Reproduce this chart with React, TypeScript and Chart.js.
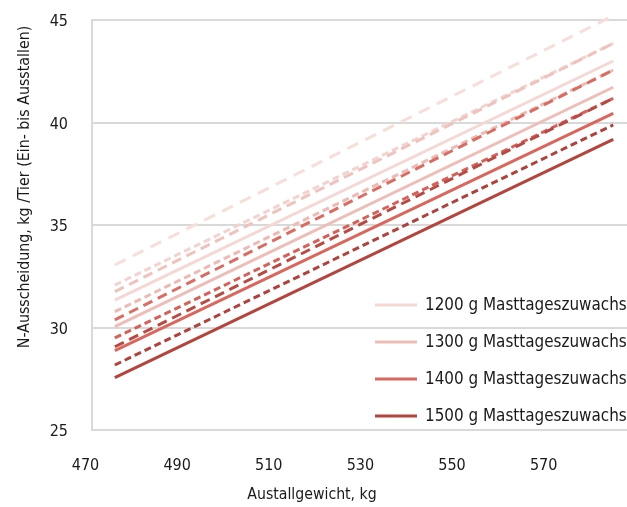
import React, { useEffect, useRef } from "react";
import { Chart, registerables } from "chart.js";

Chart.register(...registerables);

// X positions (Ausstallgewicht, kg) where each line starts and ends
const xPoints = [476.4, 585.2];
const xTicks = [470, 490, 510, 530, 550, 570];
const yTicks = [25, 30, 35, 40, 45];

const gainLabels = [
  "1200 g Masttageszuwachs",
  "1300 g Masttageszuwachs",
  "1400 g Masttageszuwachs",
  "1500 g Masttageszuwachs",
];

// solid lines
const solid1200 = [31.34, 43.0];
const solid1300 = [30.04, 41.72];
const solid1400 = [28.87, 40.45];
const solid1500 = [27.55, 39.18];
// long-dashed variants
const dashA1200 = [33.05, 45.21];
const dashA1300 = [31.75, 43.86];
const dashA1400 = [30.37, 42.56];
const dashA1500 = [29.06, 41.18];
// short-dashed variants
const dashB1200 = [32.07, 43.86];
const dashB1300 = [30.77, 42.56];
const dashB1400 = [29.49, 41.18];
const dashB1500 = [28.17, 39.88];

const colors = ["#F5D8D5", "#EEBDB8", "#D9675D", "#B3443E"];
const dashAColors = ["#F7DEDB", "#EFC2BD", "#DA6D63", "#B84A44"];
const dashBColors = ["#F3D3D0", "#EDBAB5", "#D4625A", "#B0423D"];

const FONT = "'DejaVu Sans Condensed', 'Liberation Sans', sans-serif";

const toPts = (ys: number[]) => ys.map((y, i) => ({ x: xPoints[i], y }));

export default function App() {
  const ref = useRef<HTMLCanvasElement | null>(null);

  useEffect(() => {
    if (!ref.current) return;
    const solids = [solid1200, solid1300, solid1400, solid1500];
    const dashAs = [dashA1200, dashA1300, dashA1400, dashA1500];
    const dashBs = [dashB1200, dashB1300, dashB1400, dashB1500];

    const datasets: any[] = [];
    // darker groups first so they are drawn on top (Chart.js draws index 0 last)
    for (let g = 3; g >= 0; g--) {
      datasets.push({
        label: gainLabels[g],
        data: toPts(solids[g]),
        borderColor: colors[g],
        borderWidth: 3,
        pointRadius: 0,
        fill: false,
        clip: false,
      });
      datasets.push({
        label: gainLabels[g] + " (a)",
        data: toPts(dashBs[g]),
        borderColor: dashBColors[g],
        borderWidth: 3,
        borderDash: [7, 4],
        pointRadius: 0,
        fill: false,
        clip: false,
      });
      datasets.push({
        label: gainLabels[g] + " (b)",
        data: toPts(dashAs[g]),
        borderColor: dashAColors[g],
        borderWidth: 3,
        borderDash: g === 0 ? [12, 8] : [10, 6],
        pointRadius: 0,
        fill: false,
        clip: false,
      });
    }

    const overlay = {
      id: "overlay",
      afterDraw(chart: any) {
        const { ctx, chartArea } = chart;
        ctx.save();
        // legend
        ctx.font = `16.9px ${FONT}`;
        ctx.textBaseline = "middle";
        ctx.textAlign = "left";
        for (let g = 0; g < 4; g++) {
          const y = chartArea.top + 285 + g * 37;
          const x0 = chartArea.right - 252;
          ctx.strokeStyle = colors[g];
          ctx.lineWidth = 3;
          ctx.setLineDash([]);
          ctx.beginPath();
          ctx.moveTo(x0, y);
          ctx.lineTo(x0 + 42, y);
          ctx.stroke();
          ctx.fillStyle = "#1a1a1a";
          ctx.fillText(gainLabels[g], x0 + 50, y + 1);
        }
        // axis titles
        ctx.fillStyle = "#1a1a1a";
        ctx.textAlign = "center";
        ctx.font = `15.7px ${FONT}`;
        ctx.fillText("Austallgewicht, kg", 312, 495);
        ctx.font = `15.8px ${FONT}`;
        ctx.translate(25, 187);
        ctx.rotate(-Math.PI / 2);
        ctx.fillText("N-Ausscheidung, kg /Tier (Ein- bis Ausstallen)", 0, 0);
        ctx.restore();
      },
    };

    const chart = new Chart(ref.current, {
      type: "line",
      data: { datasets },
      options: {
        animation: false,
        responsive: false,
        layout: { padding: { top: 20, left: 0, right: 0, bottom: 0 } },
        plugins: { legend: { display: false }, tooltip: { enabled: false } },
        scales: {
          x: {
            type: "linear",
            min: 471.42,
            max: 588.2,
            afterBuildTicks: (scale: any) => {
              scale.ticks = xTicks.map((v) => ({ value: v }));
            },
            afterFit: (scale: any) => {
              scale.height = 77;
              scale.paddingLeft = 0;
              scale.paddingRight = 0;
            },
            grid: { display: false },
            border: { display: true, color: "#d9d9d9", width: 2 },
            ticks: {
              autoSkip: false,
              maxRotation: 0,
              padding: 18,
              color: "#1a1a1a",
              font: { family: FONT, size: 16 },
            },
          },
          y: {
            type: "linear",
            min: 25,
            max: 45,
            afterBuildTicks: (scale: any) => {
              scale.ticks = yTicks.map((v) => ({ value: v }));
            },
            afterFit: (scale: any) => {
              scale.width = 92;
              scale.paddingTop = 0;
              scale.paddingBottom = 0;
            },
            grid: { display: true, color: "#d9d9d9", lineWidth: 2, drawTicks: false },
            border: { display: true, color: "#d9d9d9", width: 2 },
            ticks: {
              padding: 24,
              labelOffset: 2,
              color: "#1a1a1a",
              font: { family: FONT, size: 16 },
            },
          },
        },
      } as any,
      plugins: [overlay],
    });
    return () => chart.destroy();
  }, []);

  return (
    <div style={{ position: "fixed", left: 0, top: 0, width: 627, height: 507, background: "#fff" }}>
      <canvas ref={ref} width={627} height={507} />
    </div>
  );
}
